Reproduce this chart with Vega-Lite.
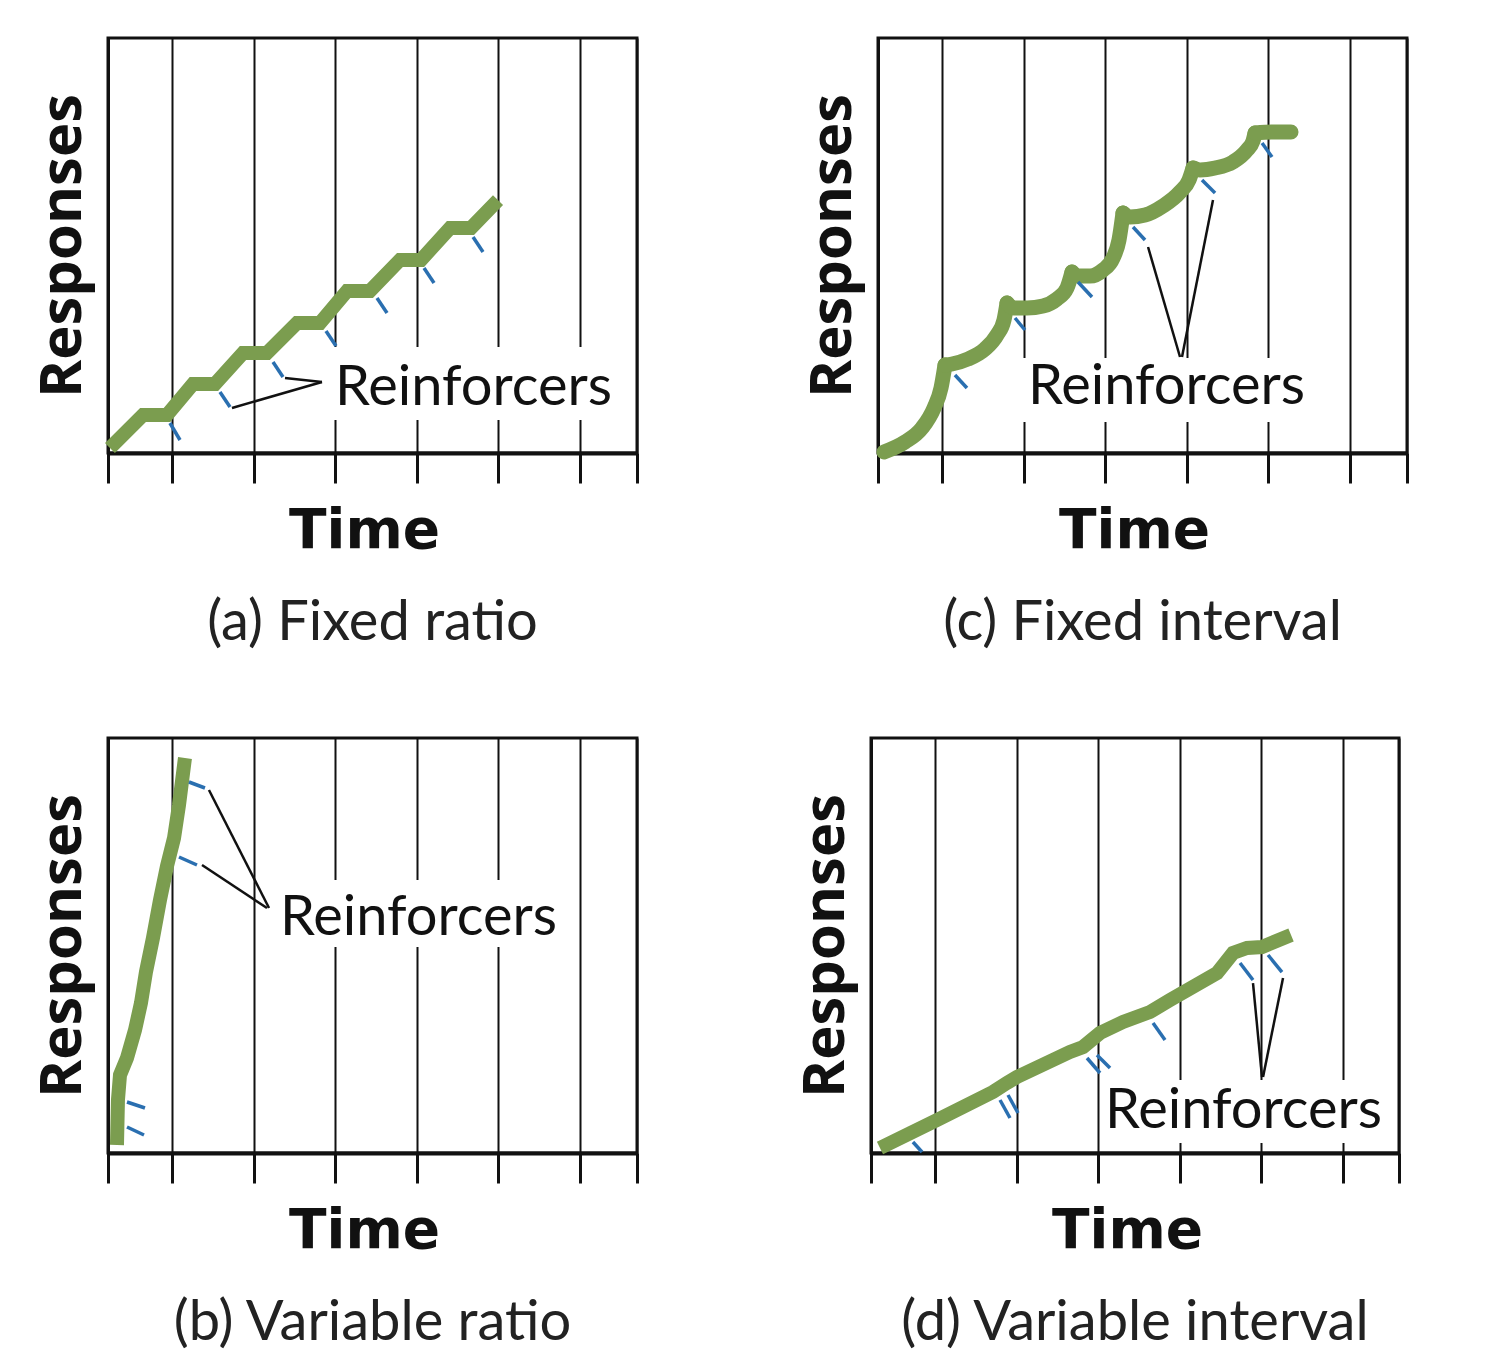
{
  "$schema": "https://vega.github.io/schema/vega-lite/v6.json",
  "background": "white",
  "padding": {"left": 32, "top": 36, "right": 0, "bottom": 0},
  "datasets": {
    "all": [
      {"panel": "a", "kind": "curve", "seg": 1, "i": 1, "x": -0.760, "y": 0.120},
      {"panel": "a", "kind": "curve", "seg": 1, "i": 2, "x": -0.355, "y": 0.916},
      {"panel": "a", "kind": "curve", "seg": 1, "i": 3, "x": -0.061, "y": 0.916},
      {"panel": "a", "kind": "curve", "seg": 1, "i": 4, "x": 0.257, "y": 1.663},
      {"panel": "a", "kind": "curve", "seg": 1, "i": 5, "x": 0.527, "y": 1.663},
      {"panel": "a", "kind": "curve", "seg": 1, "i": 6, "x": 0.870, "y": 2.410},
      {"panel": "a", "kind": "curve", "seg": 1, "i": 7, "x": 1.164, "y": 2.410},
      {"panel": "a", "kind": "curve", "seg": 1, "i": 8, "x": 1.532, "y": 3.133},
      {"panel": "a", "kind": "curve", "seg": 1, "i": 9, "x": 1.814, "y": 3.133},
      {"panel": "a", "kind": "curve", "seg": 1, "i": 10, "x": 2.145, "y": 3.904},
      {"panel": "a", "kind": "curve", "seg": 1, "i": 11, "x": 2.426, "y": 3.904},
      {"panel": "a", "kind": "curve", "seg": 1, "i": 12, "x": 2.794, "y": 4.651},
      {"panel": "a", "kind": "curve", "seg": 1, "i": 13, "x": 3.051, "y": 4.651},
      {"panel": "a", "kind": "curve", "seg": 1, "i": 14, "x": 3.407, "y": 5.422},
      {"panel": "a", "kind": "curve", "seg": 1, "i": 15, "x": 3.664, "y": 5.422},
      {"panel": "a", "kind": "curve", "seg": 1, "i": 16, "x": 3.995, "y": 6.096},
      {"panel": "a", "kind": "blue", "x": -0.025, "y": 0.723, "x2": 0.098, "y2": 0.313},
      {"panel": "a", "kind": "blue", "x": 0.588, "y": 1.470, "x2": 0.711, "y2": 1.108},
      {"panel": "a", "kind": "blue", "x": 1.238, "y": 2.193, "x2": 1.360, "y2": 1.831},
      {"panel": "a", "kind": "blue", "x": 1.887, "y": 2.940, "x2": 2.010, "y2": 2.578},
      {"panel": "a", "kind": "blue", "x": 2.512, "y": 3.735, "x2": 2.635, "y2": 3.373},
      {"panel": "a", "kind": "blue", "x": 3.088, "y": 4.458, "x2": 3.211, "y2": 4.096},
      {"panel": "a", "kind": "blue", "x": 3.689, "y": 5.205, "x2": 3.811, "y2": 4.843},
      {"panel": "a", "kind": "pointer", "x": 0.735, "y": 1.084, "x2": 1.838, "y2": 1.711},
      {"panel": "a", "kind": "pointer", "x": 1.385, "y": 1.807, "x2": 1.838, "y2": 1.711},
      {"panel": "a", "kind": "box", "x": 1.875, "y": 2.554, "x2": 5.490, "y2": 0.795},
      {"panel": "a", "kind": "label", "x": 1.998, "y": 1.157, "text": "Reinforcers"},

      {"panel": "c", "kind": "curve", "seg": 1, "i": 1, "x": -0.711, "y": 0.024},
      {"panel": "c", "kind": "curve", "seg": 1, "i": 2, "x": -0.453, "y": 0.265},
      {"panel": "c", "kind": "curve", "seg": 1, "i": 3, "x": -0.245, "y": 0.602},
      {"panel": "c", "kind": "curve", "seg": 1, "i": 4, "x": -0.098, "y": 1.084},
      {"panel": "c", "kind": "curve", "seg": 1, "i": 5, "x": -0.012, "y": 1.566},
      {"panel": "c", "kind": "curve", "seg": 1, "i": 6, "x": 0.037, "y": 2.120},
      {"panel": "c", "kind": "curve", "seg": 2, "i": 6, "x": 0.037, "y": 2.120},
      {"panel": "c", "kind": "curve", "seg": 2, "i": 7, "x": 0.123, "y": 2.145},
      {"panel": "c", "kind": "curve", "seg": 2, "i": 8, "x": 0.319, "y": 2.265},
      {"panel": "c", "kind": "curve", "seg": 2, "i": 9, "x": 0.527, "y": 2.506},
      {"panel": "c", "kind": "curve", "seg": 2, "i": 10, "x": 0.674, "y": 2.843},
      {"panel": "c", "kind": "curve", "seg": 2, "i": 11, "x": 0.760, "y": 3.205},
      {"panel": "c", "kind": "curve", "seg": 2, "i": 12, "x": 0.797, "y": 3.614},
      {"panel": "c", "kind": "curve", "seg": 3, "i": 12, "x": 0.797, "y": 3.614},
      {"panel": "c", "kind": "curve", "seg": 3, "i": 13, "x": 0.882, "y": 3.494},
      {"panel": "c", "kind": "curve", "seg": 3, "i": 14, "x": 1.042, "y": 3.494},
      {"panel": "c", "kind": "curve", "seg": 3, "i": 15, "x": 1.238, "y": 3.542},
      {"panel": "c", "kind": "curve", "seg": 3, "i": 16, "x": 1.409, "y": 3.711},
      {"panel": "c", "kind": "curve", "seg": 3, "i": 17, "x": 1.532, "y": 3.976},
      {"panel": "c", "kind": "curve", "seg": 3, "i": 18, "x": 1.593, "y": 4.361},
      {"panel": "c", "kind": "curve", "seg": 4, "i": 18, "x": 1.593, "y": 4.361},
      {"panel": "c", "kind": "curve", "seg": 4, "i": 19, "x": 1.667, "y": 4.265},
      {"panel": "c", "kind": "curve", "seg": 4, "i": 20, "x": 1.814, "y": 4.265},
      {"panel": "c", "kind": "curve", "seg": 4, "i": 21, "x": 1.973, "y": 4.410},
      {"panel": "c", "kind": "curve", "seg": 4, "i": 22, "x": 2.096, "y": 4.699},
      {"panel": "c", "kind": "curve", "seg": 4, "i": 23, "x": 2.169, "y": 5.133},
      {"panel": "c", "kind": "curve", "seg": 4, "i": 24, "x": 2.218, "y": 5.783},
      {"panel": "c", "kind": "curve", "seg": 5, "i": 24, "x": 2.218, "y": 5.783},
      {"panel": "c", "kind": "curve", "seg": 5, "i": 25, "x": 2.304, "y": 5.687},
      {"panel": "c", "kind": "curve", "seg": 5, "i": 26, "x": 2.488, "y": 5.735},
      {"panel": "c", "kind": "curve", "seg": 5, "i": 27, "x": 2.708, "y": 5.952},
      {"panel": "c", "kind": "curve", "seg": 5, "i": 28, "x": 2.917, "y": 6.289},
      {"panel": "c", "kind": "curve", "seg": 5, "i": 29, "x": 3.027, "y": 6.578},
      {"panel": "c", "kind": "curve", "seg": 5, "i": 30, "x": 3.076, "y": 6.867},
      {"panel": "c", "kind": "curve", "seg": 6, "i": 30, "x": 3.076, "y": 6.867},
      {"panel": "c", "kind": "curve", "seg": 6, "i": 31, "x": 3.162, "y": 6.819},
      {"panel": "c", "kind": "curve", "seg": 6, "i": 32, "x": 3.346, "y": 6.867},
      {"panel": "c", "kind": "curve", "seg": 6, "i": 33, "x": 3.566, "y": 7.012},
      {"panel": "c", "kind": "curve", "seg": 6, "i": 34, "x": 3.738, "y": 7.301},
      {"panel": "c", "kind": "curve", "seg": 6, "i": 35, "x": 3.811, "y": 7.518},
      {"panel": "c", "kind": "curve", "seg": 6, "i": 36, "x": 3.836, "y": 7.711},
      {"panel": "c", "kind": "curve", "seg": 7, "i": 36, "x": 3.836, "y": 7.711},
      {"panel": "c", "kind": "curve", "seg": 7, "i": 37, "x": 4.044, "y": 7.735},
      {"panel": "c", "kind": "curve", "seg": 7, "i": 38, "x": 4.277, "y": 7.735},
      {"panel": "c", "kind": "blue", "x": 0.159, "y": 1.880, "x2": 0.306, "y2": 1.566},
      {"panel": "c", "kind": "blue", "x": 0.895, "y": 3.253, "x2": 1.017, "y2": 2.964},
      {"panel": "c", "kind": "blue", "x": 1.667, "y": 4.120, "x2": 1.838, "y2": 3.759},
      {"panel": "c", "kind": "blue", "x": 2.341, "y": 5.446, "x2": 2.488, "y2": 5.133},
      {"panel": "c", "kind": "blue", "x": 3.186, "y": 6.578, "x2": 3.346, "y2": 6.265},
      {"panel": "c", "kind": "blue", "x": 3.922, "y": 7.470, "x2": 4.044, "y2": 7.133},
      {"panel": "c", "kind": "pointer", "x": 2.525, "y": 4.964, "x2": 2.917, "y2": 2.313},
      {"panel": "c", "kind": "pointer", "x": 3.321, "y": 6.096, "x2": 2.941, "y2": 2.313},
      {"panel": "c", "kind": "box", "x": 0.895, "y": 2.289, "x2": 4.571, "y2": 0.747},
      {"panel": "c", "kind": "label", "x": 1.054, "y": 1.181, "text": "Reinforcers"},

      {"panel": "b", "kind": "curve", "seg": 1, "i": 1, "x": -0.674, "y": 0.193},
      {"panel": "b", "kind": "curve", "seg": 1, "i": 2, "x": -0.662, "y": 1.277},
      {"panel": "b", "kind": "curve", "seg": 1, "i": 3, "x": -0.637, "y": 1.880},
      {"panel": "b", "kind": "curve", "seg": 1, "i": 4, "x": -0.551, "y": 2.289},
      {"panel": "b", "kind": "curve", "seg": 1, "i": 5, "x": -0.453, "y": 2.964},
      {"panel": "b", "kind": "curve", "seg": 1, "i": 6, "x": -0.380, "y": 3.614},
      {"panel": "b", "kind": "curve", "seg": 1, "i": 7, "x": -0.319, "y": 4.361},
      {"panel": "b", "kind": "curve", "seg": 1, "i": 8, "x": -0.233, "y": 5.181},
      {"panel": "b", "kind": "curve", "seg": 1, "i": 9, "x": -0.147, "y": 6.096},
      {"panel": "b", "kind": "curve", "seg": 1, "i": 10, "x": -0.061, "y": 6.916},
      {"panel": "b", "kind": "curve", "seg": 1, "i": 11, "x": 0.025, "y": 7.590},
      {"panel": "b", "kind": "curve", "seg": 1, "i": 12, "x": 0.086, "y": 8.386},
      {"panel": "b", "kind": "curve", "seg": 1, "i": 13, "x": 0.159, "y": 9.518},
      {"panel": "b", "kind": "blue", "x": -0.551, "y": 1.229, "x2": -0.331, "y2": 1.084},
      {"panel": "b", "kind": "blue", "x": -0.551, "y": 0.627, "x2": -0.343, "y2": 0.434},
      {"panel": "b", "kind": "blue", "x": 0.208, "y": 8.940, "x2": 0.404, "y2": 8.795},
      {"panel": "b", "kind": "blue", "x": 0.086, "y": 7.133, "x2": 0.306, "y2": 6.940},
      {"panel": "b", "kind": "pointer", "x": 0.453, "y": 8.747, "x2": 1.189, "y2": 5.904},
      {"panel": "b", "kind": "pointer", "x": 0.368, "y": 6.940, "x2": 1.164, "y2": 5.904},
      {"panel": "b", "kind": "box", "x": 1.225, "y": 6.578, "x2": 4.841, "y2": 4.964},
      {"panel": "b", "kind": "label", "x": 1.324, "y": 5.253, "text": "Reinforcers"},

      {"panel": "d", "kind": "curve", "seg": 1, "i": 1, "x": -0.674, "y": 0.120},
      {"panel": "d", "kind": "curve", "seg": 1, "i": 2, "x": 0.025, "y": 0.795},
      {"panel": "d", "kind": "curve", "seg": 1, "i": 3, "x": 0.711, "y": 1.470},
      {"panel": "d", "kind": "curve", "seg": 1, "i": 4, "x": 0.882, "y": 1.687},
      {"panel": "d", "kind": "curve", "seg": 1, "i": 5, "x": 1.005, "y": 1.831},
      {"panel": "d", "kind": "curve", "seg": 1, "i": 6, "x": 1.654, "y": 2.434},
      {"panel": "d", "kind": "curve", "seg": 1, "i": 7, "x": 1.814, "y": 2.554},
      {"panel": "d", "kind": "curve", "seg": 1, "i": 8, "x": 2.022, "y": 2.892},
      {"panel": "d", "kind": "curve", "seg": 1, "i": 9, "x": 2.304, "y": 3.157},
      {"panel": "d", "kind": "curve", "seg": 1, "i": 10, "x": 2.635, "y": 3.398},
      {"panel": "d", "kind": "curve", "seg": 1, "i": 11, "x": 2.880, "y": 3.687},
      {"panel": "d", "kind": "curve", "seg": 1, "i": 12, "x": 3.456, "y": 4.337},
      {"panel": "d", "kind": "curve", "seg": 1, "i": 13, "x": 3.652, "y": 4.819},
      {"panel": "d", "kind": "curve", "seg": 1, "i": 14, "x": 3.824, "y": 4.940},
      {"panel": "d", "kind": "curve", "seg": 1, "i": 15, "x": 4.007, "y": 4.964},
      {"panel": "d", "kind": "curve", "seg": 1, "i": 16, "x": 4.363, "y": 5.253},
      {"panel": "d", "kind": "blue", "x": -0.270, "y": 0.265, "x2": -0.159, "y2": 0.024},
      {"panel": "d", "kind": "blue", "x": 0.797, "y": 1.277, "x2": 0.919, "y2": 0.843},
      {"panel": "d", "kind": "blue", "x": 0.895, "y": 1.398, "x2": 1.017, "y2": 0.964},
      {"panel": "d", "kind": "blue", "x": 1.863, "y": 2.289, "x2": 2.022, "y2": 1.928},
      {"panel": "d", "kind": "blue", "x": 1.985, "y": 2.361, "x2": 2.145, "y2": 2.048},
      {"panel": "d", "kind": "blue", "x": 2.672, "y": 3.133, "x2": 2.819, "y2": 2.723},
      {"panel": "d", "kind": "blue", "x": 3.738, "y": 4.578, "x2": 3.897, "y2": 4.169},
      {"panel": "d", "kind": "blue", "x": 4.081, "y": 4.771, "x2": 4.252, "y2": 4.361},
      {"panel": "d", "kind": "pointer", "x": 3.897, "y": 4.096, "x2": 4.007, "y2": 1.831},
      {"panel": "d", "kind": "pointer", "x": 4.265, "y": 4.217, "x2": 4.020, "y2": 1.831},
      {"panel": "d", "kind": "box", "x": 2.047, "y": 1.759, "x2": 5.600, "y2": 0.241},
      {"panel": "d", "kind": "label", "x": 2.083, "y": 0.602, "text": "Reinforcers"}
    ]
  },
  "vconcat": [
    {
      "hconcat": [
        {
          "width": 529, "height": 415,
          "title": "(a) Fixed ratio",
          "data": {"name": "all"},
          "transform": [{"filter": "datum.panel == 'a'"}],
          "encoding": {
            "x": {"field": "x", "type": "quantitative", "title": "Time", "scale": {"domain": [-0.784, 5.698], "nice": false, "zero": false}, "axis": {"values": [-0.784, 0, 1, 2, 3, 4, 5, 5.698]}},
            "y": {"field": "y", "type": "quantitative", "title": "Responses", "scale": {"domain": [0, 10], "nice": false, "zero": false}}
          },
          "layer": [
            {"transform": [{"filter": "datum.kind == 'box'"}], "mark": {"type": "rect", "color": "white"}, "encoding": {"x2": {"field": "x2"}, "y2": {"field": "y2"}}},
            {"transform": [{"filter": "datum.kind == 'curve'"}], "mark": {"type": "line", "color": "#7b9d4f", "strokeWidth": 14}, "encoding": {"order": {"field": "i", "type": "quantitative"}}},
            {"transform": [{"filter": "datum.kind == 'blue'"}], "mark": {"type": "rule", "color": "#2a6fb0", "strokeWidth": 3.5}, "encoding": {"x2": {"field": "x2"}, "y2": {"field": "y2"}}},
            {"transform": [{"filter": "datum.kind == 'pointer'"}], "mark": {"type": "rule", "color": "#111111", "strokeWidth": 2.5}, "encoding": {"x2": {"field": "x2"}, "y2": {"field": "y2"}}},
            {"transform": [{"filter": "datum.kind == 'label'"}], "mark": {"type": "text", "font": "Lato", "fontSize": 56, "align": "left", "baseline": "alphabetic", "color": "#111111"}, "encoding": {"text": {"field": "text"}}}
          ]
        },
        {
          "width": 529, "height": 415,
          "title": "(c) Fixed interval",
          "data": {"name": "all"},
          "transform": [{"filter": "datum.panel == 'c'"}],
          "encoding": {
            "x": {"field": "x", "type": "quantitative", "title": "Time", "scale": {"domain": [-0.784, 5.698], "nice": false, "zero": false}, "axis": {"values": [-0.784, 0, 1, 2, 3, 4, 5, 5.698]}},
            "y": {"field": "y", "type": "quantitative", "title": "Responses", "scale": {"domain": [0, 10], "nice": false, "zero": false}}
          },
          "layer": [
            {"transform": [{"filter": "datum.kind == 'box'"}], "mark": {"type": "rect", "color": "white"}, "encoding": {"x2": {"field": "x2"}, "y2": {"field": "y2"}}},
            {"transform": [{"filter": "datum.kind == 'curve'"}], "mark": {"type": "line", "color": "#7b9d4f", "strokeWidth": 15, "interpolate": "monotone", "strokeCap": "round"}, "encoding": {"detail": {"field": "seg", "type": "nominal"}, "order": {"field": "i", "type": "quantitative"}}},
            {"transform": [{"filter": "datum.kind == 'blue'"}], "mark": {"type": "rule", "color": "#2a6fb0", "strokeWidth": 3.5}, "encoding": {"x2": {"field": "x2"}, "y2": {"field": "y2"}}},
            {"transform": [{"filter": "datum.kind == 'pointer'"}], "mark": {"type": "rule", "color": "#111111", "strokeWidth": 2.5}, "encoding": {"x2": {"field": "x2"}, "y2": {"field": "y2"}}},
            {"transform": [{"filter": "datum.kind == 'label'"}], "mark": {"type": "text", "font": "Lato", "fontSize": 56, "align": "left", "baseline": "alphabetic", "color": "#111111"}, "encoding": {"text": {"field": "text"}}}
          ]
        }
      ],
      "spacing": 162
    },
    {
      "hconcat": [
        {
          "width": 529, "height": 415,
          "title": "(b) Variable ratio",
          "data": {"name": "all"},
          "transform": [{"filter": "datum.panel == 'b'"}],
          "encoding": {
            "x": {"field": "x", "type": "quantitative", "title": "Time", "scale": {"domain": [-0.784, 5.698], "nice": false, "zero": false}, "axis": {"values": [-0.784, 0, 1, 2, 3, 4, 5, 5.698]}},
            "y": {"field": "y", "type": "quantitative", "title": "Responses", "scale": {"domain": [0, 10], "nice": false, "zero": false}}
          },
          "layer": [
            {"transform": [{"filter": "datum.kind == 'box'"}], "mark": {"type": "rect", "color": "white"}, "encoding": {"x2": {"field": "x2"}, "y2": {"field": "y2"}}},
            {"transform": [{"filter": "datum.kind == 'curve'"}], "mark": {"type": "line", "color": "#7b9d4f", "strokeWidth": 14}, "encoding": {"order": {"field": "i", "type": "quantitative"}}},
            {"transform": [{"filter": "datum.kind == 'blue'"}], "mark": {"type": "rule", "color": "#2a6fb0", "strokeWidth": 3.5}, "encoding": {"x2": {"field": "x2"}, "y2": {"field": "y2"}}},
            {"transform": [{"filter": "datum.kind == 'pointer'"}], "mark": {"type": "rule", "color": "#111111", "strokeWidth": 2.5}, "encoding": {"x2": {"field": "x2"}, "y2": {"field": "y2"}}},
            {"transform": [{"filter": "datum.kind == 'label'"}], "mark": {"type": "text", "font": "Lato", "fontSize": 56, "align": "left", "baseline": "alphabetic", "color": "#111111"}, "encoding": {"text": {"field": "text"}}}
          ]
        },
        {
          "width": 528, "height": 415,
          "title": "(d) Variable interval",
          "data": {"name": "all"},
          "transform": [{"filter": "datum.panel == 'd'"}],
          "encoding": {
            "x": {"field": "x", "type": "quantitative", "title": "Time", "scale": {"domain": [-0.784, 5.686], "nice": false, "zero": false}, "axis": {"values": [-0.784, 0, 1, 2, 3, 4, 5, 5.686]}},
            "y": {"field": "y", "type": "quantitative", "title": "Responses", "scale": {"domain": [0, 10], "nice": false, "zero": false}}
          },
          "layer": [
            {"transform": [{"filter": "datum.kind == 'box'"}], "mark": {"type": "rect", "color": "white"}, "encoding": {"x2": {"field": "x2"}, "y2": {"field": "y2"}}},
            {"transform": [{"filter": "datum.kind == 'curve'"}], "mark": {"type": "line", "color": "#7b9d4f", "strokeWidth": 14}, "encoding": {"order": {"field": "i", "type": "quantitative"}}},
            {"transform": [{"filter": "datum.kind == 'blue'"}], "mark": {"type": "rule", "color": "#2a6fb0", "strokeWidth": 3.5}, "encoding": {"x2": {"field": "x2"}, "y2": {"field": "y2"}}},
            {"transform": [{"filter": "datum.kind == 'pointer'"}], "mark": {"type": "rule", "color": "#111111", "strokeWidth": 2.5}, "encoding": {"x2": {"field": "x2"}, "y2": {"field": "y2"}}},
            {"transform": [{"filter": "datum.kind == 'label'"}], "mark": {"type": "text", "font": "Lato", "fontSize": 56, "align": "left", "baseline": "alphabetic", "color": "#111111"}, "encoding": {"text": {"field": "text"}}}
          ]
        }
      ],
      "spacing": 155
    }
  ],
  "spacing": 76,
  "config": {
    "view": {"stroke": "#111111", "strokeWidth": 3},
    "axisX": {"grid": true, "gridColor": "#111111", "gridWidth": 2, "gridOpacity": 1, "labels": false, "ticks": true, "tickSize": 30, "tickWidth": 3, "tickColor": "#111111", "domainColor": "#111111", "domainWidth": 4, "titleFont": "DejaVu Sans", "titleFontSize": 55, "titleFontWeight": "bold", "titleColor": "#111111", "titlePadding": 20, "titleX": 256},
    "axisY": {"grid": false, "ticks": false, "labels": false, "domainColor": "#111111", "domainWidth": 3, "titleFont": "Open Sans", "titleFontSize": 58, "titleFontWeight": "bold", "titleColor": "#111111", "titlePadding": 16},
    "title": {"orient": "bottom", "font": "Lato", "fontSize": 56, "fontWeight": "normal", "color": "#222222", "offset": 37, "anchor": "middle"}
  }
}
